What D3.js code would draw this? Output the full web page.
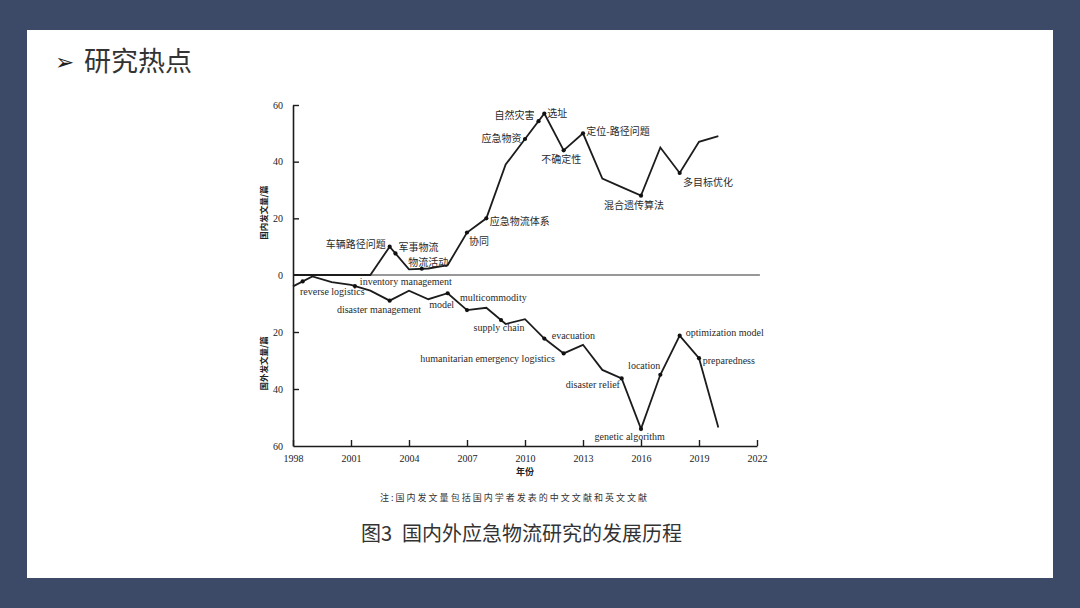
<!DOCTYPE html>
<html>
<head>
<meta charset="utf-8">
<script src="https://cdn.jsdelivr.net/npm/d3@7"></script>
<style>
  html, body { margin: 0; padding: 0; background: #3c4a68; }
  svg { display: block; }
</style>
</head>
<body>
<svg id="chart" width="1080" height="608"></svg>
<script>
// ---------------- data ----------------
const years = d3.range(1998, 2021);
const domesticValues = [0, 0, 0, 0, 0, 10, 2, 2.3, 3.5, 15, 20, 39, 48, 57, 44, 50, 34, 31, 28, 45, 36, 47, 49];
const foreignValues  = [4, 0.5, 2.5, 3.5, 5.5, 9, 5.5, 8.5, 6.4, 12.3, 11.5, 17.2, 15.5, 22.3, 27.5, 24.5, 33.3, 36.3, 54, 35, 21.3, 29.2, 53.5];

const domesticKeywordYears = [2003, 2003.3, 2004.66, 2007, 2008, 2010, 2010.7, 2011, 2012, 2013, 2016, 2018];
const domesticKeywords = ["车辆路径问题", "军事物流", "物流活动", "协同", "应急物流体系", "应急物资", "自然灾害", "选址", "不确定性", "定位-路径问题", "混合遗传算法", "多目标优化"];

const foreignKeywordYears = [1998.5, 2001.2, 2003, 2006, 2007, 2008.76, 2011, 2012, 2015, 2016, 2017, 2018, 2019];
const foreignKeywords = ["reverse logistics", "inventory management", "disaster management", "model", "multicommodity", "supply chain", "evacuation", "humanitarian emergency logistics", "disaster relief", "genetic algorithm", "location", "optimization model", "preparedness"];

const xTicks = [1998, 2001, 2004, 2007, 2010, 2013, 2016, 2019, 2022];
const topTicks = [0, 20, 40, 60];
const bottomTicks = [20, 40, 60];

const titleText = "研究热点";
const noteText = "注:国内发文量包括国内学者发表的中文文献和英文文献";
const captionFigure = "图3";
const captionText = "国内外应急物流研究的发展历程";
const yTitleTop = "国内发文量/篇";
const yTitleBottom = "国外发文量/篇";
const xTitle = "年份";

// ---------------- label layout (offsets from the marker, px) ----------------
const domesticLabelLayout = [
  {anchor: "end", dx: -4, dy: 1},
  {anchor: "start", dx: 3, dy: -2},
  {anchor: "middle", dx: 6.4, dy: -3},
  {anchor: "start", dx: 2, dy: 12},
  {anchor: "start", dx: 3.5, dy: 6.5},
  {anchor: "end", dx: -3.5, dy: 2.5},
  {anchor: "end", dx: -4, dy: -1.7},
  {anchor: "start", dx: 3, dy: 3.3},
  {anchor: "middle", dx: -2.3, dy: 12.5},
  {anchor: "start", dx: 3.3, dy: 1.2},
  {anchor: "middle", dx: -7, dy: 13},
  {anchor: "start", dx: 3.3, dy: 12.5}
];
const foreignLabelLayout = [
  {anchor: "start", dx: -2.7, dy: 13.3},
  {anchor: "start", dx: 5, dy: -0.7},
  {anchor: "middle", dx: -10.7, dy: 12.3},
  {anchor: "middle", dx: -6, dy: 14.8},
  {anchor: "start", dx: -7, dy: -9.3},
  {anchor: "middle", dx: -2, dy: 10.6},
  {anchor: "start", dx: 7.4, dy: 0},
  {anchor: "end", dx: -8.7, dy: 9},
  {anchor: "end", dx: -1.7, dy: 9.5},
  {anchor: "middle", dx: -11.3, dy: 10.8},
  {anchor: "end", dx: 0, dy: -5.8},
  {anchor: "start", dx: 6, dy: 0.6},
  {anchor: "start", dx: 3.7, dy: 5.5}
];

// ---------------- drawing ----------------
const svg = d3.select("#chart");
const CJK = "'Noto Sans CJK SC', 'Noto Sans', sans-serif";
const SERIF = "'Liberation Serif', 'DejaVu Serif', serif";
const ink = "#1c1c1c";

// slide
svg.append("rect").attr("x", 0).attr("y", 0).attr("width", 1080).attr("height", 608).attr("fill", "#3c4a68");
svg.append("rect").attr("x", 27).attr("y", 30).attr("width", 1026).attr("height", 548).attr("fill", "#ffffff");

// title
svg.append("text").attr("x", 55).attr("y", 70)
  .attr("font-family", "'DejaVu Sans', sans-serif").attr("font-size", 23).attr("fill", "#222")
  .text("➢");
svg.append("text").attr("x", 84).attr("y", 70.5)
  .attr("font-family", CJK).attr("font-size", 27).attr("fill", "#333")
  .text(titleText);

// scales
const x = d3.scaleLinear().domain([1998, 2022]).range([293, 757]);
const yTop = d3.scaleLinear().domain([0, 60]).range([275, 105]);
const yBot = d3.scaleLinear().domain([0, 60]).range([275, 446]);

const g = svg.append("g");

// zero line
g.append("line")
  .attr("x1", x(1998)).attr("x2", x(2022.15))
  .attr("y1", yTop(0)).attr("y2", yTop(0))
  .attr("stroke", "#333").attr("stroke-width", 1.2);

// x axis (bottom, ticks pointing up)
const xAxis = d3.axisBottom(x).tickValues(xTicks).tickFormat(d3.format("d")).tickSizeInner(-6).tickSizeOuter(0).tickPadding(9);
const gx = g.append("g").attr("transform", `translate(0,${yBot(60)})`).call(xAxis);
gx.select(".domain").attr("stroke", ink).attr("stroke-width", 1.6);
gx.selectAll(".tick line").attr("stroke", ink).attr("stroke-width", 1.4);
gx.selectAll(".tick text").attr("font-family", SERIF).attr("font-size", 10).attr("fill", "#222");

// y axes (ticks pointing right, inward)
const yAxisTop = d3.axisLeft(yTop).tickValues(topTicks).tickFormat(d3.format("d")).tickSizeInner(-6).tickSizeOuter(0).tickPadding(10);
const gyt = g.append("g").attr("transform", `translate(${x(1998)},0)`).call(yAxisTop);
const yAxisBot = d3.axisLeft(yBot).tickValues(bottomTicks).tickFormat(d3.format("d")).tickSizeInner(-6).tickSizeOuter(0).tickPadding(10);
const gyb = g.append("g").attr("transform", `translate(${x(1998)},0)`).call(yAxisBot);
[gyt, gyb].forEach(a => {
  a.select(".domain").attr("stroke", ink).attr("stroke-width", 1.6);
  a.selectAll(".tick line").attr("stroke", ink).attr("stroke-width", 1.4);
  a.selectAll(".tick text").attr("font-family", SERIF).attr("font-size", 10).attr("fill", "#222");
});
gyt.selectAll(".tick").filter(d => d === 0).select("line").remove();
gyb.selectAll(".tick").filter(d => d === 60).select("line").remove();

// axis titles
g.append("text")
  .attr("transform", `translate(267,${(yTop(12) + yTop(32)) / 2}) rotate(-90)`)
  .attr("text-anchor", "middle").attr("font-family", CJK).attr("font-weight", "bold")
  .attr("font-size", 8.5).attr("fill", "#222").text(yTitleTop);
g.append("text")
  .attr("transform", `translate(267,${(yBot(21) + yBot(41)) / 2}) rotate(-90)`)
  .attr("text-anchor", "middle").attr("font-family", CJK).attr("font-weight", "bold")
  .attr("font-size", 8.5).attr("fill", "#222").text(yTitleBottom);
g.append("text")
  .attr("x", x(2010)).attr("y", 474.5)
  .attr("text-anchor", "middle").attr("font-family", CJK).attr("font-weight", "bold")
  .attr("font-size", 9).attr("fill", "#222").text(xTitle);

// series lines
const domesticData = years.map((yr, i) => ({year: yr, value: domesticValues[i]}));
const foreignData = years.map((yr, i) => ({year: yr, value: foreignValues[i]}));

const lineTop = d3.line().x(d => x(d.year)).y(d => yTop(d.value));
const lineBot = d3.line().x(d => x(d.year)).y(d => yBot(d.value));

g.append("path").datum(domesticData).attr("d", lineTop)
  .attr("fill", "none").attr("stroke", ink).attr("stroke-width", 1.8).attr("stroke-linejoin", "miter");
g.append("path").datum(foreignData).attr("d", lineBot)
  .attr("fill", "none").attr("stroke", ink).attr("stroke-width", 1.8).attr("stroke-linejoin", "miter");

// value on the series at a (possibly fractional) year, by linear interpolation of the data
function valueAt(values, yr) {
  const i = Math.min(Math.floor(yr - 1998), values.length - 2);
  const t = yr - 1998 - i;
  return values[i] + (values[i + 1] - values[i]) * t;
}

function drawKeywords(keyYears, keywords, layout, values, yScale, font) {
  const data = keyYears.map((yr, i) => ({year: yr, value: valueAt(values, yr), label: keywords[i], lay: layout[i]}));
  const kg = g.append("g");
  kg.selectAll("circle").data(data).join("circle")
    .attr("cx", d => x(d.year)).attr("cy", d => yScale(d.value)).attr("r", 2.1).attr("fill", "#111");
  kg.selectAll("text").data(data).join("text")
    .attr("x", d => x(d.year) + d.lay.dx).attr("y", d => yScale(d.value) + d.lay.dy)
    .attr("text-anchor", d => d.lay.anchor)
    .attr("font-family", font).attr("font-size", 10).attr("fill", "#2a2a2a")
    .text(d => d.label);
}
drawKeywords(domesticKeywordYears, domesticKeywords, domesticLabelLayout, domesticValues, yTop, CJK);
drawKeywords(foreignKeywordYears, foreignKeywords, foreignLabelLayout, foreignValues, yBot, SERIF);

// note & caption
svg.append("text").attr("x", 380).attr("y", 501)
  .attr("font-family", CJK).attr("font-size", 9).attr("fill", "#333")
  .attr("textLength", 267).attr("lengthAdjust", "spacing")
  .text(noteText);
const cap = svg.append("text").attr("x", 361).attr("y", 540.5)
  .attr("font-family", CJK).attr("font-size", 20).attr("fill", "#333");
cap.append("tspan").text(captionFigure);
cap.append("tspan").attr("dx", 10).text(captionText);
</script>
</body>
</html>
